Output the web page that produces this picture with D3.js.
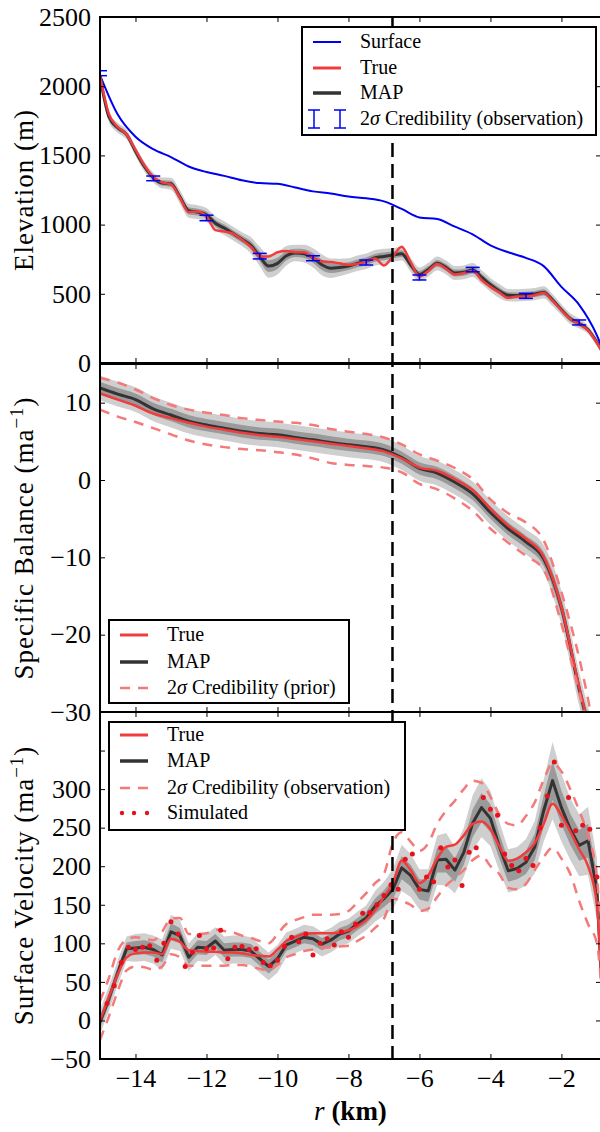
<!DOCTYPE html>
<html>
<head>
<meta charset="utf-8">
<script src="https://cdn.jsdelivr.net/npm/d3@7"></script>
<style>
  body { margin: 0; background: #fff; }
  svg text { font-family: "Liberation Serif", "DejaVu Serif", serif; }
</style>
</head>
<body>
<svg id="chart" width="600" height="1132"></svg>
<script>
/**
 * DATA
 */
// fine grid (km) used by panel 1 and panel 3
const km25 = [-15, -14.75, -14.5, -14.25, -14, -13.75, -13.5, -13.25, -13, -12.75,
  -12.5, -12.25, -12, -11.75, -11.5, -11.25, -11, -10.75, -10.5, -10.25,
  -10, -9.75, -9.5, -9.25, -9, -8.75, -8.5, -8.25, -8, -7.75,
  -7.5, -7.25, -7, -6.75, -6.5, -6.25, -6, -5.75, -5.5, -5.25,
  -5, -4.75, -4.5, -4.25, -4, -3.75, -3.5, -3.25, -3, -2.75,
  -2.5, -2.25, -2, -1.75, -1.5, -1.25, -1, -0.75];
// coarse grid (km) for the smooth curves
const km50 = [-15, -14.5, -14, -13.5, -13, -12.5, -12, -11.5, -11, -10.5,
  -10, -9.5, -9, -8.5, -8, -7.5, -7, -6.5, -6, -5.5,
  -5, -4.5, -4, -3.5, -3, -2.5, -2, -1.5, -1, -0.5];
// grid of simulated velocity samples
const simKm = [-15, -14.8, -14.6, -14.4, -14.2, -14, -13.8, -13.6, -13.4, -13.2,
  -13, -12.8, -12.6, -12.4, -12.2, -12, -11.8, -11.6, -11.4, -11.2,
  -11, -10.8, -10.6, -10.4, -10.2, -10, -9.8, -9.6, -9.4, -9.2,
  -9, -8.8, -8.6, -8.4, -8.2, -8, -7.8, -7.6, -7.4, -7.2,
  -7, -6.8, -6.6, -6.4, -6.2, -6, -5.8, -5.6, -5.4, -5.2,
  -5, -4.8, -4.6, -4.4, -4.2, -4, -3.8, -3.6, -3.4, -3.2,
  -3, -2.8, -2.6, -2.4, -2.2, -2, -1.8, -1.6, -1.4, -1.2, -1];

// Panel 1: elevation (m)
const surface = [2080, 1795, 1635, 1545, 1488, 1420, 1380, 1352, 1320, 1300,
  1295, 1268, 1240, 1225, 1203, 1190, 1168, 1113, 1052, 1040,
  985, 930, 850, 800, 760, 700, 550, 420, 200, -150];
const bedTrue = [2075, 1800, 1705, 1650, 1540, 1430, 1345, 1305, 1290, 1195,
  1090, 1095, 1060, 960, 950, 935, 890, 840, 770, 770,
  800, 810, 800, 800, 760, 735, 730, 720, 710, 715,
  735, 755, 705, 770, 840, 730, 625, 665, 715, 680,
  640, 650, 665, 600, 550, 510, 470, 480, 480, 490,
  505, 450, 380, 318, 280, 235, 145, 35];
const bedMap = [2070, 1780, 1700, 1650, 1530, 1420, 1340, 1300, 1295, 1200,
  1100, 1090, 1070, 1010, 975, 935, 895, 850, 770, 700,
  720, 775, 795, 790, 760, 710, 685, 690, 700, 720,
  735, 760, 770, 780, 790, 710, 640, 675, 720, 690,
  650, 655, 672, 620, 565, 520, 490, 488, 492, 498,
  510, 455, 385, 320, 285, 240, 150, 40];
const bedSd = [15, 18, 18, 18, 18, 18, 18, 20, 22, 25,
  25, 25, 25, 25, 25, 25, 25, 30, 35, 42,
  40, 35, 30, 32, 35, 38, 35, 32, 28, 28,
  28, 28, 28, 25, 25, 25, 25, 25, 25, 25,
  25, 25, 25, 25, 25, 25, 22, 22, 22, 22,
  22, 22, 20, 20, 18, 15, 15, 10];
const obsKm = [-15, -13.5, -12, -10.5, -9, -7.5, -6, -4.5, -3, -1.5];
const obsElev = [2094, 1334, 1048, 772, 757, 726, 618, 675, 485, 293];
const obsErr = [18, 17, 20, 20, 18, 18, 18, 16, 18, 18];

// Panel 2: specific balance (m/a)
const balTrue = [11.2, 10.4, 9.6, 8.6, 8.0, 7.4, 6.9, 6.5, 6.1, 5.8,
  5.6, 5.3, 5.0, 4.7, 4.4, 4.1, 3.7, 2.8, 1.6, 1.2,
  0.1, -1.3, -3.7, -5.9, -7.6, -9.9, -16.4, -26.8, -36, -46];
const balMap = [11.9, 11.1, 10.4, 9.2, 8.4, 7.6, 7.1, 6.7, 6.3, 6.0,
  5.85, 5.5, 5.2, 4.85, 4.55, 4.3, 3.9, 2.9, 1.5, 0.9,
  -0.3, -1.8, -4.2, -6.3, -8.0, -10.2, -16.5, -27, -36, -46];
const balUpper = [13.2, 12.6, 11.7, 10.6, 9.7, 9.1, 8.7, 8.4, 8.0, 7.75,
  7.55, 7.4, 7.1, 6.6, 6.25, 5.95, 5.5, 4.6, 3.3, 2.5,
  1.55, 0.1, -2.5, -4.3, -5.5, -7.8, -14.5, -23, -34, -45];
const balLower = [9.1, 8.2, 7.5, 6.7, 5.9, 5.1, 4.6, 4.25, 4.0, 3.85,
  3.6, 3.3, 2.8, 2.2, 1.95, 1.8, 1.6, 1.0, -0.5, -1.2,
  -2.4, -4.0, -6.3, -8.1, -9.8, -11.6, -18.6, -27.5, -37, -47];
const balSd = [0.8, 0.8, 0.8, 0.8, 0.8, 0.8, 0.8, 0.8, 0.8, 0.8,
  0.8, 0.8, 0.8, 0.8, 0.8, 0.8, 0.8, 0.8, 0.8, 0.8,
  0.8, 0.8, 0.8, 0.8, 0.8, 0.9, 1.1, 1.1, 1.1, 1.1];

// Panel 3: surface velocity (m/a)
const velTrue = [0, 30, 60, 82, 87, 88, 88, 86, 106, 102,
  91, 90, 89, 89, 88, 88, 87, 85, 84, 83,
  92, 103, 108, 112, 113, 113, 113, 114, 117, 122,
  130, 143, 160, 178, 207, 195, 178, 188, 210, 225,
  228, 240, 255, 258, 248, 226, 207, 210, 218, 230,
  255, 281, 266, 245, 222, 200, 150, -80];
const velMap = [-2, 28, 62, 93, 94, 95, 92, 85, 115, 110,
  82, 95, 94, 103, 91, 92, 92, 90, 80, 70,
  80, 98, 103, 108, 106, 99, 104, 112, 116, 125,
  133, 148, 158, 170, 198, 188, 170, 168, 208, 209,
  195, 218, 256, 276, 262, 226, 194, 197, 205, 225,
  272, 311, 276, 248, 227, 233, 170, -60];
const velUpper = [25, 55, 90, 105, 108, 106, 104, 115, 132, 133,
  112, 112, 113, 118, 116, 114, 110, 107, 103, 100,
  112, 125, 130, 134, 137, 137, 137, 138, 142, 153,
  165, 178, 190, 230, 244, 232, 220, 230, 255, 272,
  285, 300, 311, 308, 290, 267, 255, 253, 265, 283,
  312, 333, 323, 300, 272, 240, 185, 20];
const velLower = [-25, 5, 38, 65, 70, 69, 66, 70, 86, 82,
  71, 71, 71, 71, 71, 72, 72, 70, 67, 65,
  72, 82, 86, 90, 92, 94, 95, 96, 97, 103,
  110, 120, 132, 158, 155, 150, 142, 145, 160, 175,
  185, 195, 208, 214, 200, 190, 172, 170, 177, 195,
  212, 224, 210, 190, 155, 125, 100, -60];
const velSd = [8, 8, 8, 8, 9, 9, 9, 10, 11, 10,
  9, 9, 9, 9, 9, 9, 9, 9, 9, 9,
  9, 8, 8, 8, 8, 8, 8, 8, 8, 8,
  8, 10, 11, 13, 15, 14, 13, 14, 16, 17,
  15, 16, 18, 19, 18, 16, 14, 14, 15, 17,
  20, 25, 22, 20, 20, 22, 20, 15];
const velSim = [2, 22, 45, 75, 95, 92, 95, 97, 78, 100,
  128, 112, 70, 88, 110, 93, 94, 117, 80, 95,
  96, 92, 93, 75, 71, 78, 96, 108, 102, 112,
  85, 100, 106, 98, 115, 108, 125, 139, 140, 150,
  162, 176, 170, 209, 216, 170, 186, 180, 224, 199,
  208, 175, 218, 224, 289, 274, 266, 216, 201, 194,
  210, 201, 250, 291, 335, 253, 289, 246, 253, 248, 186];

// ticks
const xTicks = [-14, -12, -10, -8, -6, -4, -2];
const elevTicks = [0, 500, 1000, 1500, 2000, 2500];
const balTicks = [-30, -20, -10, 0, 10];
const velTicks = [-50, 0, 50, 100, 150, 200, 250, 300, 350];
const velTickLabels = [-50, 0, 50, 100, 150, 200, 250, 300];
const divideKm = -6.76;

/**
 * CONSTANTS
 */
const LEFT = 100;
const RIGHT = 601;
const FONT = 26;
const LABEL_FONT = 27;
const LEGEND_FONT = 20;
const TICK = 5;
const C_TRUE = "#f03c3c";
const C_MAP = "#333333";
const C_CRED = "#f47a7a";
const C_BAND_OUT = "#cfcfcf";
const C_BAND_IN = "#9a9a9a";
const C_SURF = "#0000f0";
const C_SIM = "#e8101a";

const svg = d3.select("#chart");

const x = d3.scaleLinear().domain([-15, -0.885]).range([LEFT, RIGHT]);

const panels = [
  { id: "p1", top: 17, bottom: 363, domain: [0, 2500], ticks: elevTicks, labels: elevTicks },
  { id: "p2", top: 364, bottom: 712, domain: [-30, 15], ticks: balTicks, labels: balTicks },
  { id: "p3", top: 712, bottom: 1059, domain: [-50, 400], ticks: velTicks, labels: velTickLabels },
];
panels.forEach((p) => {
  p.y = d3.scaleLinear().domain(p.domain).range([p.bottom, p.top]);
  svg.append("clipPath").attr("id", "clip-" + p.id)
    .append("rect").attr("x", LEFT).attr("y", p.top)
    .attr("width", RIGHT - LEFT).attr("height", p.bottom - p.top);
  p.g = svg.append("g").attr("clip-path", `url(#clip-${p.id})`);
});

const zip = (xs, ys) => xs.map((k, i) => ({ k, v: ys[i] }));

const drawLine = (p, xs, ys, opts) => {
  const line = d3.line()
    .x((d) => x(d.k)).y((d) => p.y(d.v))
    .curve(opts.curve || d3.curveMonotoneX);
  p.g.append("path")
    .datum(zip(xs, ys))
    .attr("fill", "none")
    .attr("stroke", opts.color)
    .attr("stroke-width", opts.width)
    .attr("stroke-dasharray", opts.dash || null)
    .attr("stroke-linejoin", "round")
    .attr("d", line);
};

const drawBands = (p, xs, mid, sd, curve) => {
  [[2, C_BAND_OUT], [1, C_BAND_IN]].forEach(([n, color]) => {
    const area = d3.area()
      .x((d, i) => x(xs[i]))
      .y0((d, i) => p.y(mid[i] - n * sd[i]))
      .y1((d, i) => p.y(mid[i] + n * sd[i]))
      .curve(curve || d3.curveMonotoneX);
    p.g.append("path").datum(mid).attr("fill", color).attr("stroke", "none").attr("d", area);
  });
};

/**
 * PANEL 1 - elevation
 */
const [p1, p2, p3] = panels;
drawBands(p1, km25, bedMap, bedSd);
drawLine(p1, km50, surface, { color: C_SURF, width: 2 });
drawLine(p1, km25, bedMap, { color: C_MAP, width: 3 });
drawLine(p1, km25, bedTrue, { color: C_TRUE, width: 2.5 });

const errG = p1.g.append("g").attr("stroke", C_SURF).attr("stroke-width", 1.5);
obsKm.forEach((k, i) => {
  const cx = x(k);
  const yHi = p1.y(obsElev[i] + obsErr[i]);
  const yLo = p1.y(obsElev[i] - obsErr[i]);
  errG.append("line").attr("x1", cx).attr("x2", cx).attr("y1", yHi).attr("y2", yLo);
  [yHi, yLo].forEach((yy) =>
    errG.append("line").attr("x1", cx - 7).attr("x2", cx + 7).attr("y1", yy).attr("y2", yy));
});

/**
 * PANEL 2 - specific balance
 */
drawBands(p2, km50, balMap, balSd);
drawLine(p2, km50, balMap, { color: C_MAP, width: 3 });
drawLine(p2, km50, balTrue, { color: C_TRUE, width: 2.5 });
drawLine(p2, km50, balUpper, { color: C_CRED, width: 2.5, dash: "10,8" });
drawLine(p2, km50, balLower, { color: C_CRED, width: 2.5, dash: "10,8" });

/**
 * PANEL 3 - surface velocity
 */
drawBands(p3, km25, velMap, velSd, d3.curveLinear);
drawLine(p3, km25, velMap, { color: C_MAP, width: 3, curve: d3.curveLinear });
drawLine(p3, km25, velTrue, { color: C_TRUE, width: 2.5 });
drawLine(p3, km25, velUpper, { color: C_CRED, width: 2.5, dash: "10,8" });
drawLine(p3, km25, velLower, { color: C_CRED, width: 2.5, dash: "10,8" });
p3.g.append("g").selectAll("circle")
  .data(zip(simKm, velSim))
  .join("circle")
  .attr("cx", (d) => x(d.k))
  .attr("cy", (d) => p3.y(d.v))
  .attr("r", 2.5)
  .attr("fill", C_SIM);

/**
 * AXES, SPINES
 */
const styleAxis = (sel) => {
  sel.select(".domain").remove();
  sel.selectAll(".tick line").attr("stroke", "#000").attr("stroke-width", 1);
  sel.selectAll("text").attr("font-size", FONT).attr("fill", "#000")
    .style("font-family", '"Liberation Serif", "DejaVu Serif", serif');
};
const fmt = (d) => d3.format("")(d);

panels.forEach((p, idx) => {
  svg.append("g").attr("transform", `translate(${LEFT},0)`)
    .call(d3.axisLeft(p.y).tickValues(p.ticks).tickSizeInner(-TICK).tickSizeOuter(0).tickPadding(9)
      .tickFormat((d) => (p.labels.includes(d) ? fmt(d) : "")))
    .call(styleAxis);
  svg.append("g").attr("transform", `translate(${RIGHT},0)`)
    .call(d3.axisRight(p.y).tickValues(p.ticks).tickSizeInner(-TICK).tickSizeOuter(0).tickFormat(""))
    .call(styleAxis);
  svg.append("g").attr("transform", `translate(0,${p.top})`)
    .call(d3.axisTop(x).tickValues(xTicks).tickSizeInner(-TICK).tickSizeOuter(0).tickFormat(""))
    .call(styleAxis);
  svg.append("g").attr("transform", `translate(0,${p.bottom})`)
    .call(d3.axisBottom(x).tickValues(xTicks).tickSizeInner(-TICK).tickSizeOuter(0).tickPadding(10)
      .tickFormat(idx === 2 ? fmt : ""))
    .call(styleAxis);
  svg.append("rect")
    .attr("x", LEFT).attr("y", p.top)
    .attr("width", RIGHT - LEFT).attr("height", p.bottom - p.top)
    .attr("fill", "none").attr("stroke", "#000").attr("stroke-width", 2);
});

// dashed divide across all panels
svg.append("line")
  .attr("x1", x(divideKm)).attr("x2", x(divideKm))
  .attr("y1", p1.top).attr("y2", p3.bottom)
  .attr("stroke", "#000").attr("stroke-width", 2.5).attr("stroke-dasharray", "14,7");

/**
 * AXIS LABELS
 */
const yLabel = (p, parts) => {
  const t = svg.append("text")
    .attr("transform", `translate(33,${(p.top + p.bottom) / 2}) rotate(-90)`)
    .attr("text-anchor", "middle")
    .attr("font-size", LABEL_FONT)
    .attr("letter-spacing", 1);
  parts.forEach(([s, sup]) => {
    const ts = t.append("tspan").text(s);
    if (sup) ts.attr("baseline-shift", "super").attr("font-size", LABEL_FONT * 0.7);
  });
};
yLabel(p1, [["Elevation (m)"]]);
yLabel(p2, [["Specific Balance (ma"], ["\u22121", true], [")"]]);
yLabel(p3, [["Surface Velocity (ma"], ["\u22121", true], [")"]]);

const xl = svg.append("text")
  .attr("x", (LEFT + RIGHT) / 2).attr("y", 1120)
  .attr("text-anchor", "middle").attr("font-size", LABEL_FONT);
xl.append("tspan").attr("font-style", "italic").text("r");
xl.append("tspan").attr("font-weight", "bold").text(" (km)");

/**
 * LEGENDS
 */
const legend = (box, rows) => {
  const g = svg.append("g");
  g.append("rect").attr("x", box[0]).attr("y", box[1]).attr("width", box[2]).attr("height", box[3])
    .attr("fill", "#fff").attr("stroke", "#000").attr("stroke-width", 2);
  rows.forEach((r) => {
    const hx0 = box[0] + 11, hx1 = box[0] + 39;
    if (r.kind === "line") {
      g.append("line").attr("x1", hx0).attr("x2", hx1).attr("y1", r.y).attr("y2", r.y)
        .attr("stroke", r.color).attr("stroke-width", r.width).attr("stroke-dasharray", r.dash || null);
    } else if (r.kind === "dots") {
      [hx0 + 2, (hx0 + hx1) / 2, hx1 - 1].forEach((cx) =>
        g.append("circle").attr("cx", cx).attr("cy", r.y).attr("r", 2.2).attr("fill", C_SIM));
    } else if (r.kind === "err") {
      [hx0 + 1, hx1 - 1].forEach((cx) => {
        g.append("line").attr("x1", cx).attr("x2", cx).attr("y1", r.y - 9).attr("y2", r.y + 9)
          .attr("stroke", C_SURF).attr("stroke-width", 1.5);
        [r.y - 9, r.y + 9].forEach((yy) =>
          g.append("line").attr("x1", cx - 6).attr("x2", cx + 6).attr("y1", yy).attr("y2", yy)
            .attr("stroke", C_SURF).attr("stroke-width", 1.5));
      });
    }
    const t = g.append("text").attr("x", box[0] + 58).attr("y", r.y + 6).attr("font-size", LEGEND_FONT);
    if (r.sigma) {
      t.append("tspan").text("2");
      t.append("tspan").attr("font-style", "italic").text("\u03c3");
      t.append("tspan").text(" " + r.label);
    } else {
      t.text(r.label);
    }
  });
};

legend([302, 27, 294, 108], [
  { kind: "line", y: 42, color: C_SURF, width: 2, label: "Surface" },
  { kind: "line", y: 68, color: C_TRUE, width: 3, label: "True" },
  { kind: "line", y: 93, color: C_MAP, width: 3.5, label: "MAP" },
  { kind: "err", y: 119, sigma: true, label: "Credibility (observation)" },
]);
legend([109, 620, 240, 83], [
  { kind: "line", y: 635, color: C_TRUE, width: 3, label: "True" },
  { kind: "line", y: 662, color: C_MAP, width: 3.5, label: "MAP" },
  { kind: "line", y: 688, color: C_CRED, width: 2.5, dash: "10,8", sigma: true, label: "Credibility (prior)" },
]);
legend([109, 722, 296, 108], [
  { kind: "line", y: 735, color: C_TRUE, width: 3, label: "True" },
  { kind: "line", y: 761, color: C_MAP, width: 3.5, label: "MAP" },
  { kind: "line", y: 788, color: C_CRED, width: 2.5, dash: "10,8", sigma: true, label: "Credibility (observation)" },
  { kind: "dots", y: 813, label: "Simulated" },
]);
</script>
</body>
</html>
